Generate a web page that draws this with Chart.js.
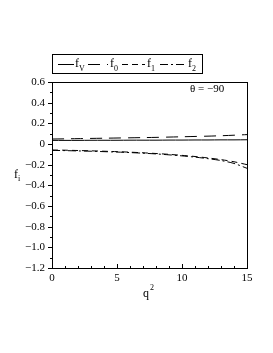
<!DOCTYPE html>
<html>
<head>
<meta charset="utf-8">
<script src="https://cdn.jsdelivr.net/npm/chart.js@4"></script>
<style>
  html, body { margin: 0; padding: 0; background: #fff; }
  #wrap { width: 273px; height: 353px; }
</style>
</head>
<body>
<div id="wrap"><canvas id="chart" width="273" height="353"></canvas></div>
<script>
// values
const q2 = [0, 1, 2, 3, 4, 5, 6, 7, 8, 9, 10, 11, 12, 13, 14, 15];
const fV = [0.035, 0.035, 0.035, 0.036, 0.036, 0.036, 0.037, 0.037, 0.037, 0.038, 0.038, 0.039, 0.039, 0.040, 0.040, 0.041];
const f0 = [0.048, 0.050, 0.052, 0.054, 0.056, 0.058, 0.060, 0.062, 0.064, 0.067, 0.070, 0.073, 0.076, 0.080, 0.085, 0.091];
const f1 = [-0.058, -0.060, -0.063, -0.066, -0.070, -0.074, -0.079, -0.085, -0.092, -0.100, -0.110, -0.121, -0.135, -0.151, -0.172, -0.200];
const f2 = [-0.062, -0.064, -0.067, -0.070, -0.074, -0.078, -0.083, -0.089, -0.096, -0.105, -0.115, -0.127, -0.142, -0.160, -0.188, -0.235];
const seriesNames = ['V', '0', '1', '2'];
const annotation = 'θ = −90';

const serif = '"Liberation Serif", "DejaVu Serif", serif';
const dashes = [[], [12, 7], [6, 4], [8, 3, 2, 3]];

function toPoints(ys) {
    return q2.map((x, i) => ({ x: x, y: ys[i] }));
}

const fmtY = v => {
    const r = Math.round(v * 10) / 10;
    if (r === 0) return '0';
    const s = Math.abs(r).toFixed(1);
    return r < 0 ? '\u2212' + s : s;
};

// minor/major ticks, frame, legend and labels
const decorations = {
    id: 'decorations',
    afterDraw(chart) {
        const ctx = chart.ctx;
        const a = chart.chartArea;
        const xs = chart.scales.x, ys = chart.scales.y;
        ctx.save();
        ctx.strokeStyle = '#000';
        ctx.lineWidth = 1;
        // frame
        ctx.strokeRect(Math.round(a.left) + 0.5, Math.round(a.top) + 0.5,
            Math.round(a.right - a.left), Math.round(a.bottom - a.top));
        // y ticks
        ctx.beginPath();
        for (let k = -12; k <= 6; k++) {
            const py = Math.round(ys.getPixelForValue(k / 10)) + 0.5;
            const len = (k % 2 === 0) ? 4 : 2;
            ctx.moveTo(a.left - len, py);
            ctx.lineTo(a.left, py);
        }
        // x ticks
        for (let k = 0; k <= 15; k++) {
            const px = Math.round(xs.getPixelForValue(k)) + 0.5;
            const len = (k % 5 === 0) ? 4 : 2;
            ctx.moveTo(px, a.bottom);
            ctx.lineTo(px, a.bottom - len);
        }
        ctx.stroke();

        // annotation
        ctx.fillStyle = '#000';
        ctx.font = '11px ' + serif;
        ctx.textBaseline = 'alphabetic';
        ctx.textAlign = 'left';
        ctx.fillText(annotation, 190, 92);

        // axis titles
        ctx.font = '12px ' + serif;
        ctx.fillText('f', 14, 178);
        ctx.font = '8px ' + serif;
        ctx.fillText('i', 18, 181);
        ctx.font = '12px ' + serif;
        ctx.fillText('q', 143, 297);
        ctx.font = '8px ' + serif;
        ctx.fillText('2', 150, 290);

        // legend box
        ctx.strokeRect(52.5, 54.5, 150, 19);
        const items = [
            { x0: 58, x1: 74, tx: 75 },
            { x0: 88, x1: 108, tx: 110 },
            { x0: 122, x1: 145, tx: 147 },
            { x0: 160, x1: 186, tx: 188 }
        ];
        chart.data.datasets.forEach((ds, i) => {
            const it = items[i];
            ctx.beginPath();
            ctx.setLineDash(ds.borderDash || []);
            ctx.moveTo(it.x0, 64.5);
            ctx.lineTo(it.x1, 64.5);
            ctx.stroke();
            ctx.setLineDash([]);
            ctx.font = '12px ' + serif;
            ctx.fillText('f', it.tx, 67);
            ctx.font = '8px ' + serif;
            ctx.fillText(seriesNames[i], it.tx + 4, 71);
        });
        ctx.restore();
    }
};

new Chart(document.getElementById('chart'), {
    type: 'line',
    data: {
        datasets: [fV, f0, f1, f2].map((d, i) => ({
            label: 'f' + seriesNames[i],
            data: toPoints(d),
            borderColor: '#000',
            borderWidth: 1,
            borderDash: dashes[i],
            pointRadius: 0,
            tension: 0.3,
            fill: false
        }))
    },
    options: {
        responsive: false,
        animation: false,
        layout: { padding: { left: 0, right: 26, top: 82, bottom: 0 } },
        plugins: { legend: { display: false }, tooltip: { enabled: false } },
        scales: {
            x: {
                type: 'linear',
                min: 0, max: 15,
                grid: { display: false, drawTicks: false },
                border: { display: false },
                ticks: {
                    stepSize: 5, padding: 4, color: '#000',
                    font: { family: serif, size: 11 }
                },
                afterFit(scale) { scale.height = 85; }
            },
            y: {
                min: -1.2, max: 0.6,
                grid: { display: false, drawTicks: false },
                border: { display: false },
                ticks: {
                    stepSize: 0.2, padding: 7, color: '#000',
                    font: { family: serif, size: 11 },
                    callback: v => fmtY(v)
                },
                afterFit(scale) { scale.width = 52; }
            }
        }
    },
    plugins: [decorations]
});
</script>
</body>
</html>
